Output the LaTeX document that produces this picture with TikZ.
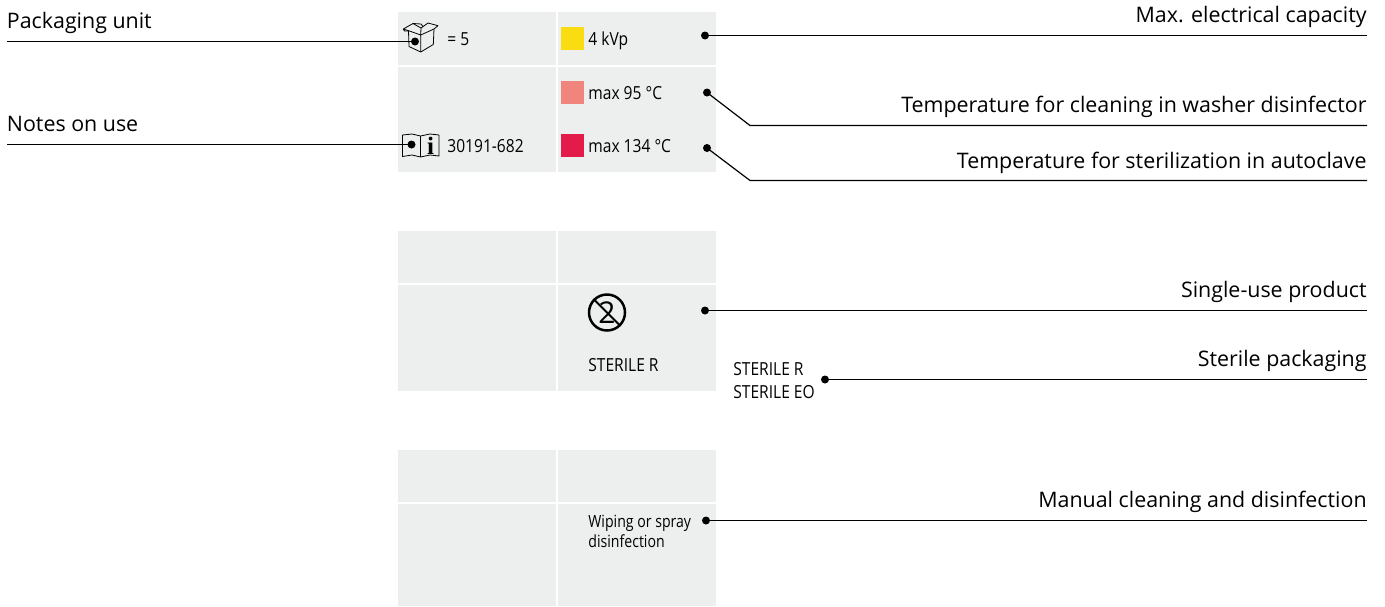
\documentclass[tikz,border=0pt]{standalone}
\usepackage{fontspec}
\setmainfont{Open Sans}
\newfontfamily\narrowfont[FakeStretch=0.865]{Open Sans}
\newfontfamily\notefont[FakeStretch=0.84]{Open Sans}
\newfontfamily\slabfont{Liberation Serif}
\usetikzlibrary{calc}

\definecolor{cellgrey}{HTML}{EDEFEE}
\definecolor{tempyellow}{HTML}{F9DD10}
\definecolor{tempsalmon}{HTML}{EF857D}
\definecolor{tempred}{HTML}{E31B4A}

\tikzset{
  cell/.style={fill=cellgrey},
  swatch/.style={draw=none, rectangle, inner sep=0pt, minimum size=11.5pt, anchor=north west},
  dot/.style={circle, fill=black, inner sep=0pt, minimum size=4pt},
  lead/.style={line width=0.6pt},
  caption/.style={inner sep=0pt, anchor=base east, font=\fontsize{10.7}{12}\selectfont},
  captionleft/.style={caption, anchor=base west},
  celltext/.style={inner sep=0pt, anchor=base west, font=\narrowfont\fontsize{9}{10}\selectfont},
  notetext/.style={celltext, font=\notefont\fontsize{8.4}{10}\selectfont},
  icon/.style={line width=0.4pt, line join=round}
}

\begin{document}
\begin{tikzpicture}[x=0.5pt,y=-0.5pt]
  \useasboundingbox (0,0) rectangle (1385,606);

  % grey panels
  \fill[cell] (398,12) rectangle (556,65);
  \fill[cell] (558,12) rectangle (716,65);
  \fill[cell] (398,67) rectangle (556,172);
  \fill[cell] (558,67) rectangle (716,172);

  \fill[cell] (398,231) rectangle (556,283);
  \fill[cell] (558,231) rectangle (716,283);
  \fill[cell] (398,285) rectangle (556,391);
  \fill[cell] (558,285) rectangle (716,391);

  \fill[cell] (398,450) rectangle (556,502);
  \fill[cell] (558,450) rectangle (716,502);
  \fill[cell] (398,504) rectangle (556,606);
  \fill[cell] (558,504) rectangle (716,606);

  % colour squares
  \node[swatch, fill=tempyellow] (swatchKvp) at (561,27) {};
  \node[swatch, fill=tempsalmon] (swatchWash) at (561,81) {};
  \node[swatch, fill=tempred] (swatchAuto) at (561,134) {};

  % cell texts
  \node[celltext] (unitText) at (447,45) {= 5};
  \node[celltext] (kvpText) at (588,45) {4 kVp};
  \node[celltext] (washText) at (588,99) {max 95 °C};
  \node[celltext] (autoText) at (588,152) {max 134 °C};
  \node[celltext] (refText) at (447,152) {30191-682};
  \node[celltext] (sterileText) at (588,371) {STERILE R};
  \node[celltext] (sterileR) at (733,375) {STERILE R};
  \node[celltext] (sterileEO) at (733,398) {STERILE EO};
  \node[notetext] (wipeText) at (588,527) {Wiping or spray};
  \node[notetext] (disText) at (588,547) {disinfection};

  % box icon
  \draw[icon] (408.5,31) -- (409,46.5) -- (420.7,52) -- (433.3,44.5) -- (434,29);
  \draw[icon] (420.7,52) -- (420.7,35) -- (408,30.5) -- (403.3,29) -- (413,23.5) -- (421,28) -- (420.7,35);
  \draw[icon] (420.7,35) -- (434,29) -- (438,25.7) -- (428,23) -- (421,28);
  \draw[icon] (413,23.5) -- (421,24) -- (423,26.5);
  \draw[icon] (403.3,29) -- (404.5,31) -- (408.5,31);

  % book icon
  \draw[icon] (402.5,135) -- (412,134) -- (420.5,136) -- (430,134) -- (439,135) -- (439,156) -- (430,155) -- (420.5,157) -- (412,155) -- (402.5,156.5) -- cycle;
  \draw[icon] (420.5,136) -- (420.5,157);
  \node[inner sep=0pt, font=\slabfont\bfseries\fontsize{12.5}{13}\selectfont] (bookInfo) at (430.5,145.5) {i};

  % single use icon
  \node[circle, draw, line width=1.25pt, inner sep=0pt, minimum size=18pt] (singleUse) at (607,312.5) {};
  \node[inner sep=0pt, font=\fontsize{15}{16}\selectfont] (singleTwo) at (607,312.5) {2};
  \draw[line width=1pt] (singleUse.north west) -- (singleUse.south east);

  % labels
  \node[captionleft] (packLabel) at (6.5,28) {Packaging unit};
  \node[captionleft] (notesLabel) at (6.5,131) {Notes on use};
  \node[caption] (capacityLabel) at (1367,22) {Max. electrical capacity};
  \node[caption] (washLabel) at (1367,112) {Temperature for cleaning in washer disinfector};
  \node[caption] (autoLabel) at (1367,168) {Temperature for sterilization in autoclave};
  \node[caption] (singleLabel) at (1367,297) {Single-use product};
  \node[caption] (sterileLabel) at (1367,366) {Sterile packaging};
  \node[caption] (manualLabel) at (1367,507) {Manual cleaning and disinfection};

  % dots
  \node[dot] (packDot) at (415,41.5) {};
  \node[dot] (notesDot) at (411.5,144.5) {};
  \node[dot] (capacityDot) at (705,35.5) {};
  \node[dot] (washDot) at (707,92.5) {};
  \node[dot] (autoDot) at (707,148) {};
  \node[dot] (singleDot) at (705,310.5) {};
  \node[dot] (sterileDot) at (825,379.5) {};
  \node[dot] (manualDot) at (706,520.5) {};

  % free ends of the leaders
  \coordinate (packEnd) at (7,41.5);
  \coordinate (notesEnd) at (7,144.5);
  \coordinate (capacityEnd) at (1367,35.5);
  \coordinate (washBend) at (750,125.5);
  \coordinate (washEnd) at (1367,125.5);
  \coordinate (autoBend) at (750,180.5);
  \coordinate (autoEnd) at (1367,180.5);
  \coordinate (singleEnd) at (1367,310.5);
  \coordinate (sterileEnd) at (1367,379.5);
  \coordinate (manualEnd) at (1367,520.5);

  \draw[lead] (packEnd) -- (packDot.center);
  \draw[lead] (notesEnd) -- (notesDot.center);
  \draw[lead] (capacityDot.center) -- (capacityEnd);
  \draw[lead] (washDot.center) -- (washBend) -- (washEnd);
  \draw[lead] (autoDot.center) -- (autoBend) -- (autoEnd);
  \draw[lead] (singleDot.center) -- (singleEnd);
  \draw[lead] (sterileDot.center) -- (sterileEnd);
  \draw[lead] (manualDot.center) -- (manualEnd);
\end{tikzpicture}
\end{document}
